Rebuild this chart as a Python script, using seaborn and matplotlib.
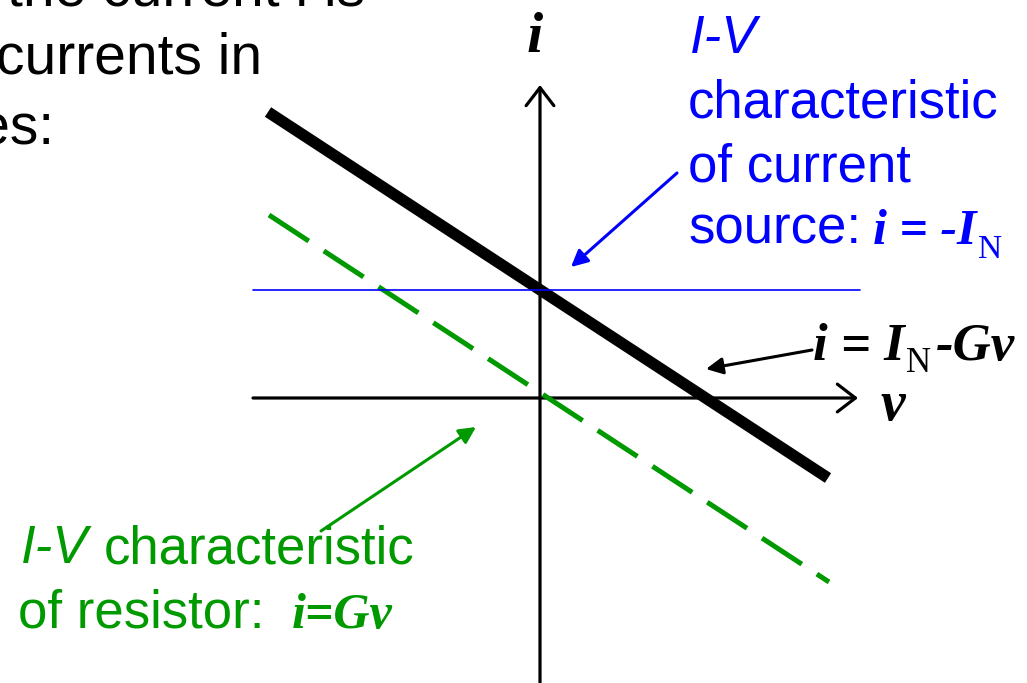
import matplotlib
matplotlib.use("Agg")
import matplotlib.pyplot as plt
import seaborn as sns

# figure size in pixels
W, H = 1027, 683

# I-V characteristics (v, i) in arbitrary units, origin where the axes cross
norton_v = [-2.72, 2.88]        # i = IN - Gv  (thick black)
norton_i = [2.86, -0.80]
resistor_v = [-2.71, 2.89]      # i = Gv  (green dashed)
resistor_i = [1.83, -1.84]
source_v = [-2.87, 3.20]        # current source (blue)
source_i = [1.08, 1.08]

# axis extents
v_axis = [-2.87, 3.18]
i_axis = [-2.90, 3.13]

sns.set_theme(style="white")
plt.rcParams["font.family"] = ["Liberation Sans", "DejaVu Sans"]
plt.rcParams["text.color"] = "black"

fig = plt.figure(figsize=(W / 100, H / 100), dpi=100)
ax = fig.add_axes([0, 0, 1, 1])
ax.set_xlim(-5.40, 4.87)
ax.set_ylim(-2.85, 3.98)
ax.axis("off")

BLUE = "#0000ff"
GREEN = "#009900"

# axes with open arrow heads
ax.annotate("", xy=(v_axis[1], 0), xytext=(v_axis[0], 0),
            arrowprops=dict(arrowstyle="->,head_length=0.65,head_width=0.5",
                            lw=2.3, color="black", shrinkA=0, shrinkB=0,
                            mutation_scale=20))
ax.annotate("", xy=(0, i_axis[1]), xytext=(0, i_axis[0]),
            arrowprops=dict(arrowstyle="->,head_length=0.65,head_width=0.5",
                            lw=2.3, color="black", shrinkA=0, shrinkB=0,
                            mutation_scale=20))

sns.lineplot(x=resistor_v, y=resistor_i, ax=ax, color=GREEN, lw=3.6,
             linestyle=(0, (9.5, 3.6)), dash_capstyle="butt", zorder=3)
sns.lineplot(x=norton_v, y=norton_i, ax=ax, color="black", lw=8.2,
             solid_capstyle="butt", zorder=4)
sns.lineplot(x=source_v, y=source_i, ax=ax, color=BLUE, lw=1.2, zorder=5)

# pointer arrows
ax.annotate("", xy=(0.31, 1.31), xytext=(1.37, 2.25),
            arrowprops=dict(arrowstyle="-|>", color=BLUE, lw=2.2,
                            shrinkA=0, shrinkB=0, mutation_scale=25))
ax.annotate("", xy=(1.66, 0.29), xytext=(2.72, 0.48),
            arrowprops=dict(arrowstyle="-|>", color="black", lw=2.2,
                            shrinkA=0, shrinkB=0, mutation_scale=25))
ax.annotate("", xy=(-0.64, -0.29), xytext=(-2.19, -1.33),
            arrowprops=dict(arrowstyle="-|>", color=GREEN, lw=2.2,
                            shrinkA=0, shrinkB=0, mutation_scale=25))


def put(x, y, s, **kw):
    # x, y in pixels from the top-left corner, y is the baseline
    kw.setdefault("color", "black")
    fig.text(x / W, 1 - y / H, s, va="baseline", **kw)


serif_bi = dict(family="Liberation Serif", weight="bold", style="italic")
serif = dict(family="Liberation Serif")

# slide text cut off at the left
put(365, 5, "the current i is", ha="right", fontsize=41)
put(262, 74, "the sum of the currents in", ha="right", fontsize=41)
put(54, 143, "both branches:", ha="right", fontsize=41)

# axis labels
put(527, 52, "i", fontsize=42, **serif_bi)
put(880, 420, "v", fontsize=40, **serif_bi)

# current source label
put(690, 53, "I-V", fontsize=38, style="italic", color=BLUE)
put(688, 118, "characteristic", fontsize=38, color=BLUE)
put(688, 181, "of current", fontsize=38, color=BLUE)
put(688, 244, "source:", fontsize=38, color=BLUE)
put(873, 244, "i = -I", fontsize=36, color=BLUE, **serif_bi)
put(978, 258, "N", fontsize=24, color=BLUE, **serif)

# Norton line label
put(813, 360, "i = I", fontsize=38, **serif_bi)
put(906, 372, "N", fontsize=25, **serif)
put(936, 360, "-Gv", fontsize=38, **serif_bi)

# resistor label
put(21, 563, "I-V", fontsize=38, style="italic", color=GREEN)
put(104, 563, "characteristic", fontsize=38, color=GREEN)
put(18, 628, "of resistor:", fontsize=38, color=GREEN)
put(292, 628, "i=Gv", fontsize=36, color=GREEN, **serif_bi)

fig.savefig("out.png", dpi=100)
